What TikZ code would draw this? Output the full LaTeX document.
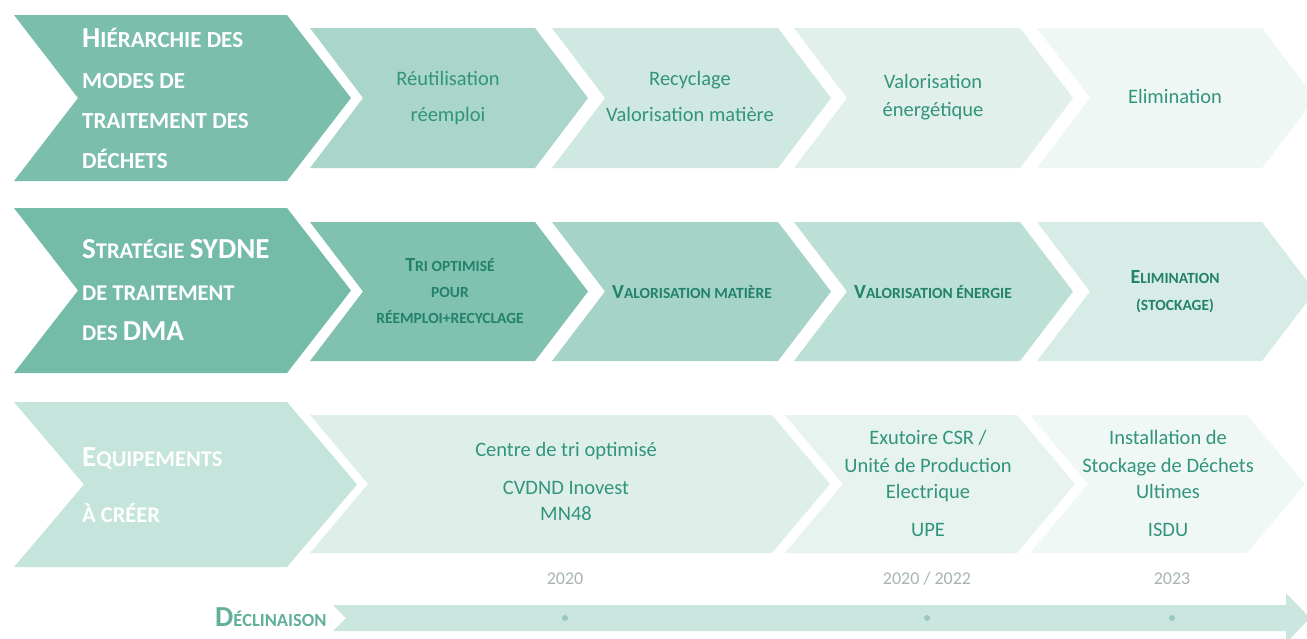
\documentclass[tikz,border=0pt]{standalone}
\usepackage{fontspec}
\setmainfont{Carlito}
\usetikzlibrary{calc}
\definecolor{hA}{HTML}{7BBEAC}
\definecolor{rAa}{HTML}{A9D5CA}
\definecolor{rAb}{HTML}{D0E8E2}
\definecolor{rAc}{HTML}{E2F0EC}
\definecolor{rAd}{HTML}{EFF7F5}
\definecolor{hB}{HTML}{74BBA8}
\definecolor{rBa}{HTML}{80C1AF}
\definecolor{rBb}{HTML}{A5D3C7}
\definecolor{rBc}{HTML}{BCDFD6}
\definecolor{rBd}{HTML}{D7ECE6}
\definecolor{hC}{HTML}{C5E4DC}
\definecolor{rCa}{HTML}{DEEFEA}
\definecolor{rCb}{HTML}{E6F3EF}
\definecolor{rCc}{HTML}{F0F8F6}
\definecolor{barc}{HTML}{CBE6DF}
\definecolor{dotc}{HTML}{9CC7BC}
\definecolor{tA}{HTML}{32947A}
\definecolor{tB}{HTML}{22826A}
\definecolor{yrc}{HTML}{A8B5B0}
\definecolor{declc}{HTML}{62AF9A}
\newcommand\Bg[2]{{\fontsize{#1}{#1}\selectfont #2}}
\newcommand\mychev[6]{%
  \pgfmathsetmacro\ymid{(#3+#4)/2}%
  \pgfmathsetmacro\xtip{#2+#5}%
  \pgfmathsetmacro\xnotch{#1+#5}%
  \fill[#6] (#1,#3) -- (#2,#3) -- (\xtip,\ymid) -- (#2,#4) -- (#1,#4) -- (\xnotch,\ymid) -- cycle;}
\tikzset{
  x=1pt, y=-1pt,
  hdr/.style={inner sep=0pt, anchor=base west, text=white, font=\bfseries},
  stxt/.style={inner sep=0pt, anchor=base, text=tA, font=\fontsize{20.5}{24}\selectfont},
  sctxt/.style={inner sep=0pt, anchor=base, text=tB, font=\bfseries},
  yrtxt/.style={inner sep=0pt, anchor=base, text=yrc, font=\fontsize{18}{20}\selectfont},
  dotn/.style={circle, fill=dotc, inner sep=0pt, minimum size=6pt},
}
\begin{document}
\begin{tikzpicture}
\useasboundingbox (0,0) rectangle (1307,638);
\clip (0,0) rectangle (1307,638);
\fill[white] (0,0) rectangle (1307,638);
% row 1
\mychev{14}{287}{15}{181}{64}{hA}
\mychev{310}{535}{28}{168}{53}{rAa}
\mychev{552}{778}{28}{168}{53}{rAb}
\mychev{794}{1020}{28}{168}{53}{rAc}
\mychev{1037}{1262}{28}{168}{53}{rAd}
% row 2
\mychev{14}{287}{208}{373}{64}{hB}
\mychev{310}{535}{222}{361}{53}{rBa}
\mychev{552}{778}{222}{361}{53}{rBb}
\mychev{794}{1020}{222}{361}{53}{rBc}
\mychev{1037}{1262}{222}{361}{53}{rBd}
% row 3
\mychev{14}{287}{402}{567}{70}{hC}
\mychev{310}{772}{415}{553}{58}{rCa}
\mychev{785}{1017}{415}{553}{58}{rCb}
\mychev{1030}{1247}{415}{553}{58}{rCc}
% timeline bar
\fill[barc] (333,605) -- (1286,605) -- (1286,593) -- (1310,618) -- (1286,643) -- (1286,631) -- (333,631) -- (346,618) -- cycle;
\node[dotn] (d1) at (565,618) {};
\node[dotn] (d2) at (927,618) {};
\node[dotn] (d3) at (1172,618) {};

% header texts
\node[hdr] (h1a) at (82,47) {\Bg{29}{H}\Bg{23}{IÉRARCHIE DES}};
\node[hdr] (h1b) at (82,88) {\Bg{23}{MODES DE}};
\node[hdr] (h1c) at (82,128) {\Bg{23}{TRAITEMENT DES}};
\node[hdr] (h1d) at (82,168) {\Bg{23}{DÉCHETS}};
\node[hdr] (h2a) at (82,258) {\Bg{29}{S}\Bg{22.5}{TRATÉGIE }\Bg{29}{SYDNE}};
\node[hdr] (h2b) at (82,300) {\Bg{22.5}{DE TRAITEMENT}};
\node[hdr] (h2c) at (82,340) {\Bg{22.5}{DES }\Bg{29}{DMA}};
\node[hdr] (h3a) at (82,466) {\Bg{29}{E}\Bg{22.5}{QUIPEMENTS}};
\node[hdr] (h3b) at (82,522) {\Bg{22.5}{À CRÉER}};

% row 1 step texts
\node[stxt] (a1a) at (448,85) {Réutilisation};
\node[stxt] (a1b) at (448,121) {réemploi};
\node[stxt] (a2a) at (690,85) {Recyclage};
\node[stxt] (a2b) at (690,121) {Valorisation matière};
\node[stxt] (a3a) at (933,88) {Valorisation};
\node[stxt] (a3b) at (933,116) {énergétique};
\node[stxt] (a4a) at (1175,103) {Elimination};

% row 2 step texts
\node[sctxt] (b1a) at (450,271) {\Bg{20}{T}\Bg{15.5}{RI OPTIMISÉ}};
\node[sctxt] (b1b) at (450,297) {\Bg{15.5}{POUR}};
\node[sctxt] (b1c) at (450,323) {\Bg{15.5}{RÉEMPLOI+RECYCLAGE}};
\node[sctxt] (b2a) at (692,298) {\Bg{20}{V}\Bg{15.5}{ALORISATION MATIÈRE}};
\node[sctxt] (b3a) at (933,298) {\Bg{20}{V}\Bg{15.5}{ALORISATION ÉNERGIE}};
\node[sctxt] (b4a) at (1175,283) {\Bg{20}{E}\Bg{15.5}{LIMINATION}};
\node[sctxt] (b4b) at (1175,310) {\Bg{15.5}{(STOCKAGE)}};

% row 3 step texts
\node[stxt] (c1a) at (566,456) {Centre de tri optimisé};
\node[stxt] (c1b) at (566,494) {CVDND Inovest};
\node[stxt] (c1c) at (566,520) {MN48};
\node[stxt] (c2a) at (928,444) {Exutoire CSR /};
\node[stxt] (c2b) at (928,472) {Unité de Production};
\node[stxt] (c2c) at (928,498) {Electrique};
\node[stxt] (c2d) at (928,536) {UPE};
\node[stxt] (c3a) at (1168,444) {Installation de};
\node[stxt] (c3b) at (1168,472) {Stockage de Déchets};
\node[stxt] (c3c) at (1168,498) {Ultimes};
\node[stxt] (c3d) at (1168,536) {ISDU};

% years
\node[yrtxt] (y1) at (565,584) {2020};
\node[yrtxt] (y2) at (927,584) {2020 / 2022};
\node[yrtxt] (y3) at (1172,584) {2023};

% declinaison
\node[inner sep=0pt, anchor=base west, text=declc, font=\bfseries] (decl) at (215,626) {\Bg{29}{D}\Bg{18.5}{ÉCLINAISON}};
\end{tikzpicture}
\end{document}
